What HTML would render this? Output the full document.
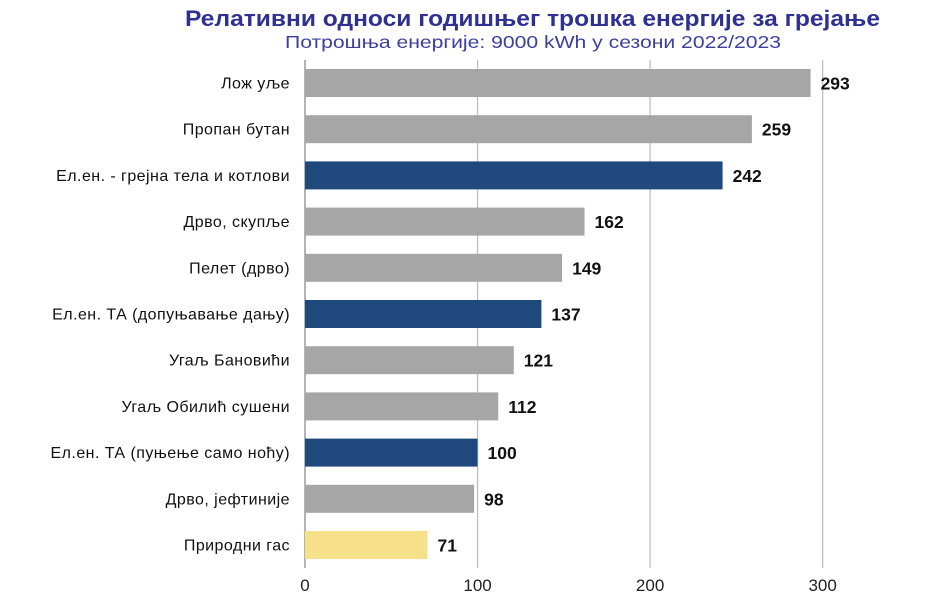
<!DOCTYPE html>
<html><head><meta charset="utf-8"><style>
body{margin:0;background:#fff;}
svg{display:block;font-family:"Liberation Sans",Arial,sans-serif;}
</style></head><body>
<svg id="chart" width="940" height="604" viewBox="0 0 940 604">
<text x="185" y="26" font-size="22" font-weight="bold" fill="#2e3192" textLength="695" lengthAdjust="spacingAndGlyphs">Релативни односи годишњег трошка енергије за грејање</text>
<text x="285" y="48" font-size="17.5" fill="#3b3f9e" textLength="496" lengthAdjust="spacingAndGlyphs">Потрошња енергије: 9000 kWh у сезони 2022/2023</text>
<g id="grid"></g><g id="bars"></g><g id="labels"></g>
</svg>
<script>
const categories=["Лож уље","Пропан бутан","Ел.ен. - грејна тела и котлови","Дрво, скупље","Пелет (дрво)","Ел.ен. ТА (допуњавање дању)","Угаљ Бановићи","Угаљ Обилић сушени","Ел.ен. ТА (пуњење само ноћу)","Дрво, јефтиније","Природни гас"];
const values=[293,259,242,162,149,137,121,112,100,98,71];
const kinds=["gray","gray","blue","gray","gray","blue","gray","gray","blue","gray","yellow"];
const ticks=[0,100,200,300];
const NS="http://www.w3.org/2000/svg";
const X0=305,KX=1.7255,PTOP=60,PBOT=568,ROWH=46.2,FIRSTC=83,BARH=28;
const xs=v=>X0+v*KX;
const ys=i=>FIRSTC+i*ROWH;
const colors={gray:"#a6a6a6",blue:"#1f497d",yellow:"#f7e08a"};
function mk(t,a,p){const e=document.createElementNS(NS,t);for(const k in a)e.setAttribute(k,a[k]);document.getElementById(p).appendChild(e);return e;}
ticks.forEach(t=>{
 const l=mk("line",{x1:xs(t),x2:xs(t),y1:PTOP,y2:PBOT,stroke:t===0?"#8c8c8c":"#bfbfbf","stroke-width":1.3},"grid");
 
 
 const tx=mk("text",{x:xs(t),y:591,"text-anchor":"middle","font-size":17,fill:"#222"},"grid");
 tx.textContent=t;
 
 
});
categories.forEach((c,i)=>{
 const y=ys(i);
 const r=mk("rect",{x:X0,y:y-BARH/2,width:xs(values[i])-X0,height:BARH,fill:colors[kinds[i]]},"bars");
 
 
 const lb=mk("text",{x:290,y:y+5.5,"text-anchor":"end","font-size":16,"letter-spacing":0.45,fill:"#111"},"labels");
 lb.textContent=c;
 
 
 const vl=mk("text",{x:xs(values[i])+10,y:y+6.5,"font-size":17.5,"font-weight":"bold",fill:"#111"},"labels");
 vl.textContent=values[i];
 
 
});
</script>
</body></html>
